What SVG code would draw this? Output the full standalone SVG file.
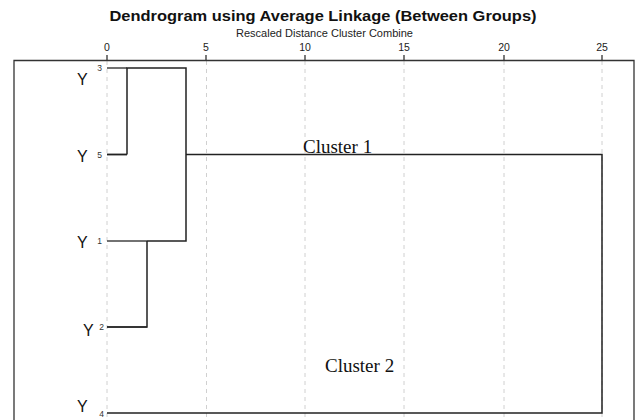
<svg xmlns="http://www.w3.org/2000/svg" width="635" height="420" viewBox="0 0 635 420">
<style>
.title{font-family:"Liberation Sans",Arial,sans-serif;font-weight:bold;font-size:15.5px;fill:#111}
.sub{font-family:"Liberation Sans",Arial,sans-serif;font-size:10.5px;fill:#222}
.tick{font-family:"Liberation Sans",Arial,sans-serif;font-size:10.5px;fill:#222}
.leaf{font-family:"Liberation Sans",Arial,sans-serif;font-size:8.5px;fill:#333}
.y{font-family:"Liberation Sans",Arial,sans-serif;font-size:16px;fill:#111}
.cl{font-family:"Liberation Serif","Times New Roman",serif;font-size:19px;fill:#111}
.grid{stroke:#d0d0d0;stroke-width:1;stroke-dasharray:4,4;fill:none}
.link{stroke:#222;stroke-width:1.5;fill:none}
.stem{stroke:#444;stroke-width:1.3;fill:none}
</style>
<rect width="635" height="420" fill="#fff"/>
<text class="title" x="323" y="21" text-anchor="middle" textLength="427" lengthAdjust="spacingAndGlyphs">Dendrogram using Average Linkage (Between Groups)</text>
<text class="sub" x="324.5" y="37" text-anchor="middle" textLength="177" lengthAdjust="spacingAndGlyphs">Rescaled Distance Cluster Combine</text>
<g id="axis">
<g class="tick" text-anchor="middle">
<text x="107" y="51">0</text><text x="206" y="51">5</text><text x="305" y="51">10</text><text x="404" y="51">15</text><text x="504" y="51">20</text><text x="602" y="51">25</text>
</g>
<path d="M107 55V61M206 55V61M305 55V61M404 55V61M504 55V61M602 55V61" stroke="#222" stroke-width="1.2"/>
</g>
<g id="grid" class="grid">
<path d="M107 61V420M206.5 61V420M305 61V420M404 61V420M504 61V420M602 61V420"/>
</g>
<path id="frame" d="M14 420V60.5H634V420" fill="none" stroke="#333" stroke-width="1.3"/>
<g id="leaf-3"><text class="y" x="77" y="85">Y</text><text class="leaf" x="102" y="71" text-anchor="end">3</text></g>
<g id="leaf-5"><text class="y" x="77" y="162">Y</text><text class="leaf" x="102" y="157.5" text-anchor="end">5</text></g>
<g id="leaf-1"><text class="y" x="77" y="248">Y</text><text class="leaf" x="102" y="244" text-anchor="end">1</text></g>
<g id="leaf-2"><text class="y" x="83" y="336">Y</text><text class="leaf" x="104" y="330" text-anchor="end">2</text></g>
<g id="leaf-4"><text class="y" x="77" y="412">Y</text><text class="leaf" x="104" y="416.5" text-anchor="end">4</text></g>
<g id="connectors">
<path class="stem" d="M107 68H127M107 154.5H127M107 241H147M107 327H147"/>
<path class="link" d="M127 154.5V68H186V241H147M127 154.5H107M147 241V327H107M186 154.5H602V413H107"/>
</g>
<g id="label-cluster1"><text class="cl" x="303" y="153">Cluster 1</text></g>
<g id="label-cluster2"><text class="cl" x="325" y="372">Cluster 2</text></g>
</svg>
